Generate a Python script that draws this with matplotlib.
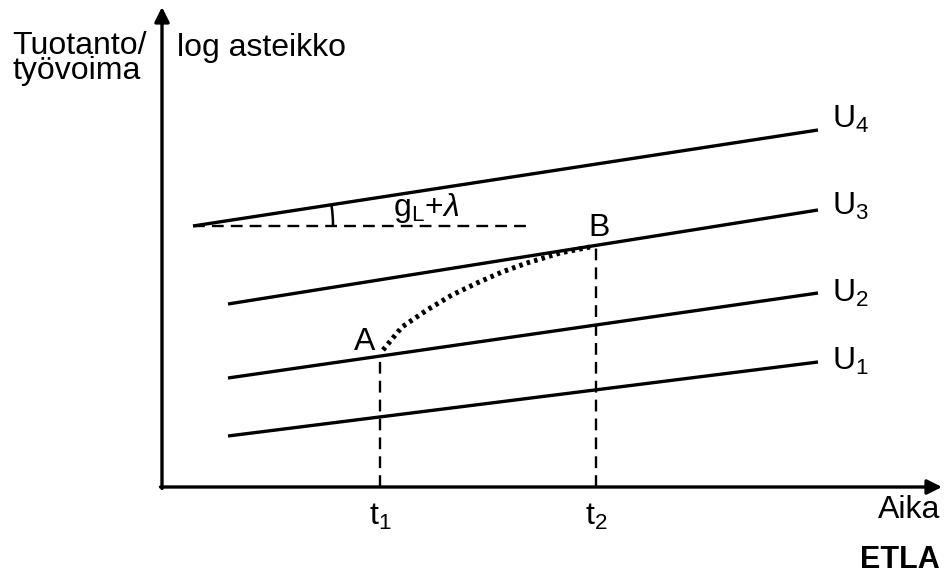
import numpy as np
import matplotlib
matplotlib.use("Agg")
import matplotlib.pyplot as plt
from matplotlib.patches import Arc

plt.rcParams["font.family"] = ["Liberation Sans", "DejaVu Sans"]
plt.rcParams["mathtext.fontset"] = "custom"
plt.rcParams["mathtext.rm"] = "Liberation Sans"
plt.rcParams["mathtext.it"] = "Liberation Sans:italic"

# aika (x) ja log tuotanto/työvoima (y), mielivaltaiset yksiköt
u_labels = ["U$_\\mathregular{1}$", "U$_\\mathregular{2}$", "U$_\\mathregular{3}$", "U$_\\mathregular{4}$"]
u_start_t = [0.66, 0.66, 0.66, 0.31]
u_end_t = [6.56, 6.56, 6.56, 6.56]
u_start_y = [0.51, 1.09, 1.83, 2.61]
u_end_y = [1.25, 1.94, 2.77, 3.57]

ref_t = [0.31, 3.65]      # vaakasuora katkoviiva U4:n alusta
t1, t2 = 2.18, 4.34
path_t = [2.21, 2.40, 2.65, 2.90, 3.15, 3.40, 3.65, 3.98, 4.28]
path_y = [1.37, 1.60, 1.77, 1.92, 2.04, 2.15, 2.24, 2.34, 2.40]

def level(i, t):
    k = (u_end_y[i] - u_start_y[i]) / (u_end_t[i] - u_start_t[i])
    return u_start_y[i] + k * (t - u_start_t[i])

fig = plt.figure(figsize=(9.46, 5.74), dpi=100)
ax = fig.add_axes([0, 0, 1, 1])
ax.set_xlim(-1.62, 7.84)
ax.set_ylim(-0.87, 4.87)
ax.set_aspect("equal")
ax.axis("off")

# akselit nuolineen
arrow = dict(arrowstyle="-|>", lw=2.4, color="black", mutation_scale=22,
             shrinkA=0, shrinkB=0)
ax.annotate("", xy=(0, 4.80), xytext=(0, -0.015), arrowprops=arrow)
ax.annotate("", xy=(7.80, 0), xytext=(-0.015, 0), arrowprops=arrow)

# tasapainopolut U1..U4
for i in range(4):
    ax.plot([u_start_t[i], u_end_t[i]], [u_start_y[i], u_end_y[i]],
            color="black", lw=2.4, solid_capstyle="butt")

# kasvuvauhdin kulma
ax.plot(ref_t, [u_start_y[3]] * 2, color="black", lw=1.7, dashes=(5, 3))
ang = np.degrees(np.arctan((u_end_y[3] - u_start_y[3]) / (u_end_t[3] - u_start_t[3])))
ax.add_patch(Arc((u_start_t[3], u_start_y[3]), 2.8, 2.8, theta1=0, theta2=ang,
                 color="black", lw=1.8))

# A -> B siirtymä
ya = level(1, t1)
yb = level(2, t2)
ax.plot([t1, t1], [0, ya], color="black", lw=1.7, dashes=(5, 3))
ax.plot([t2, t2], [0, yb], color="black", lw=1.7, dashes=(5, 3))
ax.plot(path_t, path_y, color="black", lw=3.6, linestyle=(0, (0.7, 0.85)))

fs = 23
# baseline = viimeisen rivin perusviiva
ax.text(-1.50, 4.08, "Tuotanto/\ntyövoima", fontsize=fs, va="baseline",
        linespacing=0.8)
ax.text(0.15, 4.31, "log asteikko", fontsize=fs, va="baseline")

u_text_y = [1.17, 1.85, 2.72, 3.59]
for i in range(4):
    ax.text(6.70, u_text_y[i], u_labels[i], fontsize=fs, va="baseline")

ax.text(2.31, 2.71, "g$_\\mathregular{L}$+$\\lambda$", fontsize=fs, va="baseline")
ax.text(2.13, 1.37, "A", fontsize=fs, va="baseline", ha="right")
ax.text(4.26, 2.51, "B", fontsize=fs, va="baseline")
ax.text(t1, -0.38, "t$_\\mathregular{1}$", fontsize=fs, va="baseline", ha="center")
ax.text(t2, -0.38, "t$_\\mathregular{2}$", fontsize=fs, va="baseline", ha="center")
ax.text(7.78, -0.31, "Aika", fontsize=fs, va="baseline", ha="right")
ax.text(7.78, -0.81, "ETLA", fontsize=22, va="baseline", ha="right", fontweight="bold")

fig.savefig("out.png", dpi=100)
